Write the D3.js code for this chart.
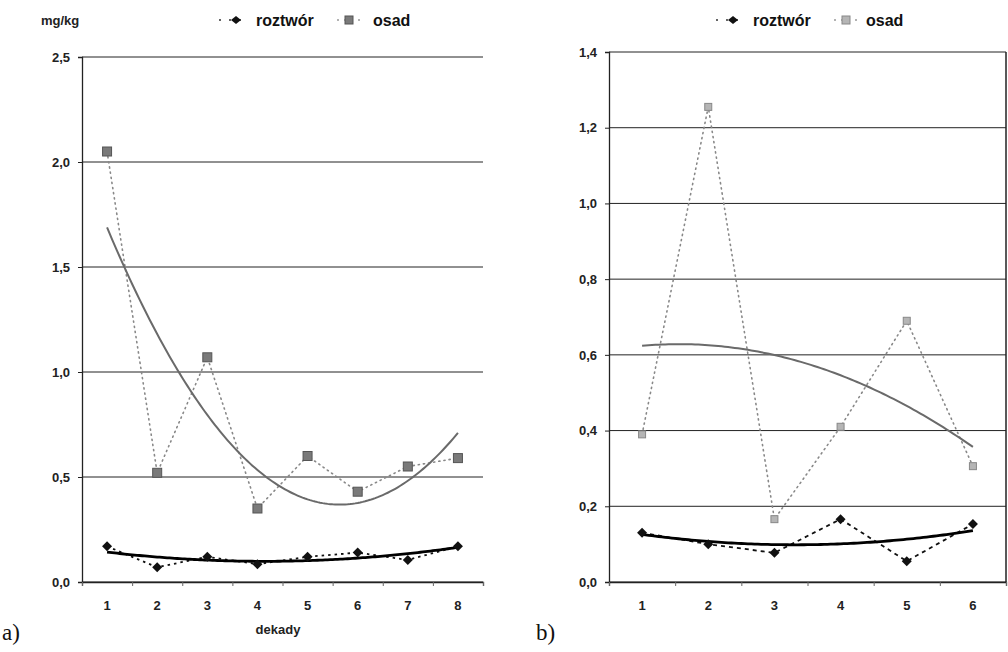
<!DOCTYPE html>
<html>
<head>
<meta charset="utf-8">
<script src="https://cdn.jsdelivr.net/npm/d3@7"></script>
<style>
  body { margin: 0; background: #fff; }
</style>
</head>
<body>
<svg id="chart" width="1008" height="652" font-family="'Liberation Sans', Arial, sans-serif"></svg>
<script>
// panel a) - 8 decades
const decadesA = [1, 2, 3, 4, 5, 6, 7, 8];
const roztworA = [0.17, 0.07, 0.12, 0.085, 0.12, 0.14, 0.105, 0.17];
const osadA = [2.05, 0.52, 1.07, 0.35, 0.60, 0.43, 0.55, 0.59];
const yTicksA = [0, 0.5, 1.0, 1.5, 2.0, 2.5];

// panel b) - 6 decades
const decadesB = [1, 2, 3, 4, 5, 6];
const roztworB = [0.13, 0.10, 0.077, 0.166, 0.055, 0.153];
const osadB = [0.39, 1.255, 0.166, 0.41, 0.69, 0.306];
const yTicksB = [0, 0.2, 0.4, 0.6, 0.8, 1.0, 1.2, 1.4];

const seriesNames = ['roztwór', 'osad'];

const plLocale = d3.formatLocale({ decimal: ',', thousands: ' ', grouping: [3], currency: ['', ' zł'] });
const fmt = plLocale.format('.1f');

const svg = d3.select('#chart');

// least squares polynomial of order 2 (like excel trendline)
function quadFit(xs, ys) {
  let s = [0, 0, 0, 0, 0], t = [0, 0, 0];
  xs.forEach((x, i) => {
    for (let k = 0; k < 5; k++) s[k] += Math.pow(x, k);
    for (let k = 0; k < 3; k++) t[k] += Math.pow(x, k) * ys[i];
  });
  const M = [[s[0], s[1], s[2], t[0]], [s[1], s[2], s[3], t[1]], [s[2], s[3], s[4], t[2]]];
  for (let i = 0; i < 3; i++) {
    for (let j = i + 1; j < 3; j++) {
      const f = M[j][i] / M[i][i];
      for (let k = i; k < 4; k++) M[j][k] -= f * M[i][k];
    }
  }
  const c = [0, 0, 0];
  for (let i = 2; i >= 0; i--) {
    let v = M[i][3];
    for (let k = i + 1; k < 3; k++) v -= M[i][k] * c[k];
    c[i] = v / M[i][i];
  }
  return x => c[0] + c[1] * x + c[2] * x * x;
}

function drawPanel(opt) {
  const { decades, roztwor, osad, yTicks, left, right, top, bottom } = opt;
  const g = svg.append('g');

  const x = d3.scaleLinear()
    .domain([0.5, decades.length + 0.5])
    .range([left, right]);
  const y = d3.scaleLinear()
    .domain([0, yTicks[yTicks.length - 1]])
    .range([bottom, top]);

  // gridlines
  g.append('g')
    .selectAll('line')
    .data(yTicks)
    .join('line')
    .attr('x1', left).attr('x2', right)
    .attr('y1', d => y(d)).attr('y2', d => y(d))
    .attr('stroke', '#222').attr('stroke-width', 1);

  if (opt.frame) {
    g.append('line')
      .attr('x1', right).attr('x2', right)
      .attr('y1', top).attr('y2', bottom)
      .attr('stroke', '#222').attr('stroke-width', 1.5);
  }

  // y axis
  const yAxis = g.append('g')
    .attr('transform', `translate(${left},0)`)
    .call(d3.axisLeft(y).tickValues(yTicks).tickFormat(fmt).tickSize(4).tickPadding(8));
  yAxis.select('.domain').attr('stroke', '#222').attr('stroke-width', 1.3);
  yAxis.selectAll('.tick line').attr('stroke', '#222');
  yAxis.selectAll('text')
    .attr('font-size', 13).attr('font-weight', 'bold').attr('fill', '#222');

  // x axis - ticks between categories, labels at categories
  const bounds = d3.range(decades.length + 1).map(i => i + 0.5);
  const xAxis = g.append('g')
    .attr('transform', `translate(0,${bottom})`)
    .call(d3.axisBottom(x).tickValues(bounds).tickSize(4).tickFormat(''));
  xAxis.select('.domain').attr('stroke', '#222').attr('stroke-width', 1.3);
  xAxis.selectAll('.tick line').attr('stroke', '#666');

  g.append('g')
    .selectAll('text')
    .data(decades)
    .join('text')
    .attr('x', d => x(d))
    .attr('y', bottom + 28)
    .attr('text-anchor', 'middle')
    .attr('font-size', 13).attr('font-weight', 'bold').attr('fill', '#222')
    .text(d => d);

  const line = d3.line().x(d => x(d[0])).y(d => y(d[1]));

  // osad
  g.append('path')
    .datum(decades.map((d, i) => [d, osad[i]]))
    .attr('d', line)
    .attr('fill', 'none')
    .attr('stroke', '#888').attr('stroke-width', 1.6)
    .attr('stroke-dasharray', '1.2,4').attr('stroke-linecap', 'round');

  // roztwór
  g.append('path')
    .datum(decades.map((d, i) => [d, roztwor[i]]))
    .attr('d', line)
    .attr('fill', 'none')
    .attr('stroke', '#111').attr('stroke-width', 1.8)
    .attr('stroke-dasharray', opt.dash);

  // trendlines
  const samples = d3.range(decades[0], decades[decades.length - 1] + 0.001, 0.05);
  const fitO = quadFit(decades, osad);
  const fitR = quadFit(decades, roztwor);
  g.append('path')
    .datum(samples.map(v => [v, fitO(v)]))
    .attr('d', line)
    .attr('fill', 'none').attr('stroke', '#6a6a6a').attr('stroke-width', 2);
  g.append('path')
    .datum(samples.map(v => [v, fitR(v)]))
    .attr('d', line)
    .attr('fill', 'none').attr('stroke', '#000').attr('stroke-width', 2.8);

  // markers
  g.append('g')
    .selectAll('rect')
    .data(decades)
    .join('rect')
    .attr('x', d => x(d) - opt.sq / 2)
    .attr('y', (d, i) => y(osad[i]) - opt.sq / 2)
    .attr('width', opt.sq).attr('height', opt.sq)
    .attr('fill', opt.sqFill).attr('stroke', opt.sqStroke).attr('stroke-width', 1);

  g.append('g')
    .selectAll('path')
    .data(decades)
    .join('path')
    .attr('transform', (d, i) => `translate(${x(d)},${y(roztwor[i])})`)
    .attr('d', 'M0,-5L5,0L0,5L-5,0Z')
    .attr('fill', '#111');

  // legend
  const lg = g.append('g').attr('transform', `translate(${opt.legendX},20)`);
  lg.append('line').attr('x1', 0).attr('x2', 28).attr('y1', 0).attr('y2', 0)
    .attr('stroke', '#333').attr('stroke-width', 1.5).attr('stroke-dasharray', '2,8');
  lg.append('path').attr('transform', 'translate(17,0)').attr('d', 'M0,-4L5,0L0,4L-5,0Z').attr('fill', '#111');
  lg.append('text').attr('x', 37).attr('y', 5.5)
    .attr('font-size', 16).attr('font-weight', 'bold').attr('fill', '#111')
    .text(seriesNames[0]);
  lg.append('line').attr('x1', 118).attr('x2', 142).attr('y1', 0).attr('y2', 0)
    .attr('stroke', '#999').attr('stroke-width', 1.5).attr('stroke-dasharray', '2,5');
  lg.append('rect').attr('x', 126).attr('y', -4).attr('width', 8).attr('height', 8)
    .attr('fill', opt.sqFill).attr('stroke', opt.sqStroke);
  lg.append('text').attr('x', opt.osadX).attr('y', 5.5)
    .attr('font-size', 16).attr('font-weight', 'bold').attr('fill', '#111')
    .text(seriesNames[1]);

  return g;
}

const ga = drawPanel({
  decades: decadesA, roztwor: roztworA, osad: osadA, yTicks: yTicksA,
  left: 82, right: 483, top: 57, bottom: 582,
  dash: '2.5,4', sq: 9, sqFill: '#7a7a7a', sqStroke: '#555',
  legendX: 219, osadX: 154, frame: false
});
ga.append('text').attr('x', 41).attr('y', 25)
  .attr('font-size', 13).attr('font-weight', 'bold').attr('fill', '#222')
  .text('mg/kg');
ga.append('text').attr('x', 278).attr('y', 634).attr('text-anchor', 'middle')
  .attr('font-size', 13).attr('font-weight', 'bold').attr('fill', '#222')
  .text('dekady');

drawPanel({
  decades: decadesB, roztwor: roztworB, osad: osadB, yTicks: yTicksB,
  left: 609, right: 1006, top: 52, bottom: 582,
  dash: '4,4', sq: 7, sqFill: '#b5b5b5', sqStroke: '#888',
  legendX: 716, osadX: 150, frame: true
});

// panel labels
svg.append('text').attr('x', 2).attr('y', 640)
  .attr('font-family', "'Liberation Serif', 'DejaVu Serif', serif").attr('font-size', 23).attr('fill', '#111')
  .text('a)');
svg.append('text').attr('x', 536).attr('y', 640)
  .attr('font-family', "'Liberation Serif', 'DejaVu Serif', serif").attr('font-size', 23).attr('fill', '#111')
  .text('b)');
</script>
</body>
</html>
